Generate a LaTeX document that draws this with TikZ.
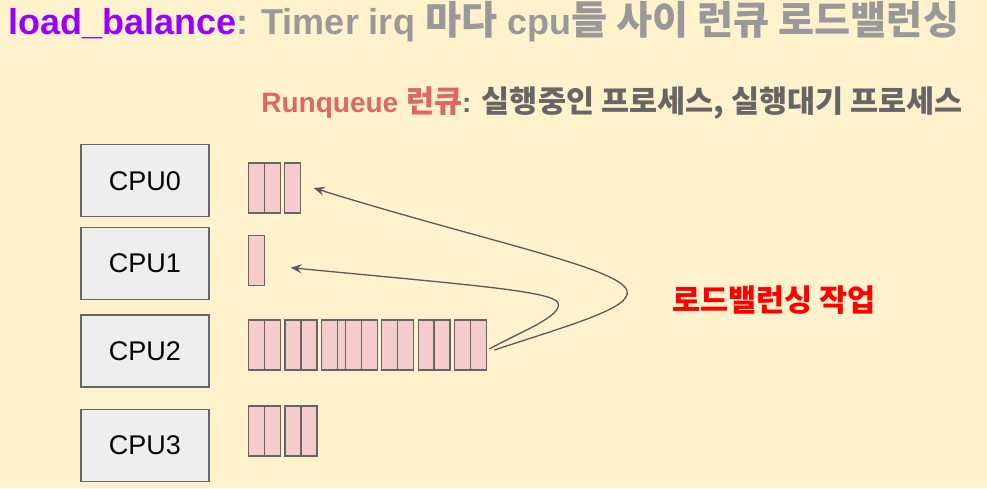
\documentclass[tikz,border=0pt]{standalone}
\usepackage{fontspec}
\setmainfont{Liberation Sans}
\newfontfamily\kr[Scale=1.09]{Noto Sans CJK KR}
\usetikzlibrary{arrows.meta}

\definecolor{bgyellow}{HTML}{FFF2CC}
\definecolor{ttlpurple}{HTML}{9900FF}
\definecolor{ttlgray}{HTML}{999999}
\definecolor{rqred}{HTML}{E06666}
\definecolor{rqgray}{HTML}{666666}
\definecolor{boxgray}{HTML}{EEEEEE}
\definecolor{qpink}{HTML}{F4CCCC}
\definecolor{lbline}{HTML}{595959}

\tikzset{
  cpubox/.style={draw=rqgray, fill=boxgray, line width=1.4pt, minimum width=128pt,
    minimum height=72pt, inner sep=0pt, font=\fontsize{27}{30}\selectfont},
  qbox/.style={draw=rqgray, fill=qpink, line width=1.3pt, minimum width=16pt,
    minimum height=50pt, inner sep=0pt, outer sep=0pt, anchor=north west},
  lbarrow/.style={draw=lbline, line width=1.3pt, -{Stealth[length=11pt,width=9pt,inset=4pt]}}
}

\begin{document}
\begin{tikzpicture}[x=1pt,y=-1pt]
\useasboundingbox [fill=bgyellow] (0,0) rectangle (987,488);
%% titles
\node [anchor=base west, inner sep=0pt] (title) at (8,34)
  {\fontsize{36}{40}\selectfont\bfseries\color{ttlpurple}load\_balance\color{ttlgray}: Timer irq {\kr 마다} cpu{\kr 들 사이 런큐 로드밸런싱}};
\node [anchor=base east, inner sep=0pt] (rqnote) at (963,112)
  {\fontsize{28}{32}\selectfont\bfseries{\color{rqred}Runqueue {\kr 런큐}}\color{rqgray}: {\kr 실행중인 프로세스, 실행대기 프로세스}};
%% cpus
\node [cpubox] (cpu0) at (145,180.7) {CPU0};
\node [cpubox] (cpu1) at (145,263.5) {CPU1};
\node [cpubox] (cpu2) at (145,351) {CPU2};
\node [cpubox] (cpu3) at (145,445.5) {CPU3};
%% runqueues
\foreach \x [count=\i] in {248.7,264.7,284.7}
  \node [qbox] (q0-\i) at (\x,163) {};
\node [qbox] (q1-1) at (248.7,235.7) {};
\foreach \x [count=\i] in {248.3,264.3,285,301,321.3,337.3,345.7,361.3,381.7,397.7,418.3,434,454.3,470.3}
  \node [qbox] (q2-\i) at (\x,320) {};
\foreach \x [count=\i] in {248.7,264.7,285,301}
  \node [qbox] (q3-\i) at (\x,406) {};
%% load balancing
\node [anchor=base west, inner sep=0pt, text=red] (lbwork) at (672,311)
  {\fontsize{28}{32}\selectfont\bfseries\kr 로드밸런싱 작업};
\coordinate (from1) at ([xshift=8pt,yshift=-5pt]q2-14.east);
\coordinate (from2) at ([xshift=3pt,yshift=-4pt]q2-14.east);
\coordinate (to1) at ([xshift=13pt,yshift=0pt]q0-3.east);
\coordinate (to2) at ([xshift=26pt,yshift=-7pt]q1-1.east);
\draw [lbarrow] (from1) .. controls (570,325) and (632,308) .. (627,291)
  .. controls (622,268) and (480,240) .. (to1);
\draw [lbarrow] (from2) .. controls (520,332) and (563,316) .. (558,303)
  .. controls (553,291) and (470,285) .. (to2);
\end{tikzpicture}
\end{document}
